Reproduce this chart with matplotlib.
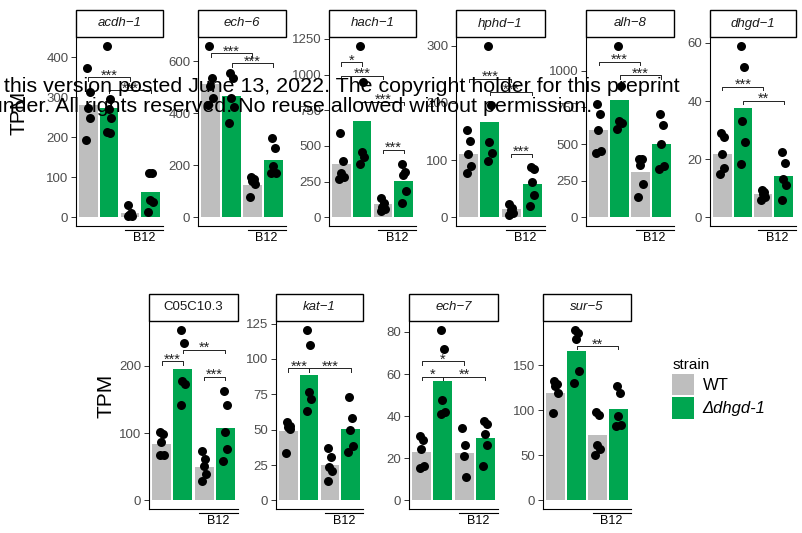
import matplotlib
matplotlib.use('Agg')
import matplotlib.pyplot as plt
from matplotlib.patches import Rectangle, Patch

plt.rcParams['font.family'] = ['Liberation Sans', 'DejaVu Sans']

# panel names, in reading order (top row 6, bottom row 4)
genes = ['acdh−1', 'ech−6', 'hach−1', 'hphd−1', 'alh−8', 'dhgd−1',
         'C05C10.3', 'kat−1', 'ech−7', 'sur−5']
italic_name = [True, True, True, True, True, True, False, True, True, True]

# bar order: WT, dhgd-1, WT + B12, dhgd-1 + B12
bar_fill = ['#BEBEBE', '#00A650', '#BEBEBE', '#00A650']

# mean TPM (bar heights)
bar_means = [
    [281, 273, 12, 64],
    [513, 465, 126, 222],
    [371, 678, 91, 252],
    [111, 167, 15, 59],
    [599, 798, 308, 503],
    [21.9, 37.6, 8.0, 14.4],
    [84, 196, 50, 108],
    [48.8, 88.6, 25.3, 50.7],
    [23.0, 56.7, 22.5, 29.8],
    [118.8, 165.4, 72.8, 101.5],
]

# replicate TPM values (dots)
replicates = [
    [[372, 312, 273, 249, 194], [429, 295, 270, 248, 214, 212], [30, 10, 6, 4, 3], [112, 110, 44, 38, 14]],
    [[660, 536, 504, 460, 433], [555, 536, 458, 424, 364], [156, 146, 140, 128, 80], [305, 268, 197, 172, 169]],
    [[593, 395, 308, 285, 266], [1203, 951, 460, 425, 374], [138, 98, 75, 56, 44], [374, 315, 297, 185, 98]],
    [[152, 133, 110, 90, 77], [300, 197, 131, 113, 98], [24, 17, 13, 7, 4], [88, 84, 62, 40, 20]],
    [[776, 707, 599, 456, 440], [1172, 893, 655, 644, 603], [401, 399, 356, 229, 138], [707, 628, 501, 349, 333]],
    [[29, 27.8, 21.9, 17, 15.1], [59.1, 51.7, 33.2, 25.8, 18.2], [9.3, 8.8, 8.0, 7.0, 6.0], [22.5, 18.8, 13.3, 11.0, 5.9]],
    [[101, 99, 87, 68, 68], [254, 234, 178, 173, 142], [73, 61, 51, 39, 29], [162, 142, 101, 76, 58]],
    [[55.8, 52.3, 51.8, 50.7, 33.5], [120.8, 109.8, 76.9, 71.5, 63.3], [37.1, 30.5, 23.9, 20.6, 14.1], [72.9, 58.6, 50.0, 38.2, 34.2]],
    [[30.7, 28.5, 24.4, 16.2, 15.4], [81.1, 72.1, 47.7, 42.2, 40.9], [34.6, 26.5, 20.9, 11.0], [37.5, 36.4, 31.7, 26.1, 16.5]],
    [[132.7, 129, 126.8, 119, 96.7], [189.3, 186, 178.3, 143.4, 130.5], [97.8, 94.1, 61.8, 57.4, 50.7], [127.2, 118.8, 93.8, 83.8, 82]],
]

y_ticks = [
    [0, 100, 200, 300, 400],
    [0, 200, 400, 600],
    [0, 250, 500, 750, 1000, 1250],
    [0, 100, 200, 300],
    [0, 250, 500, 750, 1000],
    [0, 20, 40, 60],
    [0, 100, 200],
    [0, 25, 50, 75, 100, 125],
    [0, 20, 40, 60, 80],
    [0, 50, 100, 150],
]

# significance brackets: (bar a, bar b, height, label)
sig_brackets = [
    [(0, 2, 350, '***'), (1, 3, 318, '***')],
    [(0, 2, 631, '***'), (1, 3, 592, '***')],
    [(0, 1, 1086, '*'), (0, 2, 993, '***'), (1, 3, 811, '***'), (2, 3, 472, '***')],
    [(0, 2, 242, '***'), (1, 3, 219, '***'), (2, 3, 111, '***')],
    [(0, 2, 1063, '***'), (1, 3, 968, '***')],
    [(0, 2, 44.9, '***'), (1, 3, 40.1, '**')],
    [(0, 1, 207, '***'), (1, 3, 224, '**'), (2, 3, 184, '***')],
    [(0, 1, 93.3, '***'), (1, 3, 93.3, '***')],
    [(0, 2, 66.1, '*'), (0, 1, 58.7, '*'), (1, 3, 58.7, '**')],
    [(1, 3, 171, '**')],
]

W, H = 803, 533
# axes boxes in pixels: (left, right, top, bottom)
boxes = [(76, 163, 37, 226), (198, 286, 37, 226), (329, 416, 37, 226),
         (456, 545, 37, 226), (586, 674, 37, 226), (710, 796, 37, 226),
         (149, 238, 321, 509), (276, 363, 321, 509), (409, 498, 321, 509),
         (543, 631, 321, 509)]

jit = [-0.08, 0.06, -0.02, 0.1, -0.1, 0.03]

fig = plt.figure(figsize=(W / 100, H / 100), dpi=100)

for i, g in enumerate(genes):
    l, r, t, b = boxes[i]
    ax = fig.add_axes([l / W, 1 - b / H, (r - l) / W, (b - t) / H])
    hgt = b - t
    ax.bar(range(4), bar_means[i], width=0.9, color=bar_fill, zorder=1)
    for j in range(4):
        vals = replicates[i][j]
        xs = [j + jit[k % len(jit)] for k in range(len(vals))]
        ax.scatter(xs, vals, s=42, color='black', zorder=3, linewidths=0)
    top = max(max(v) for v in replicates[i])
    ax.set_ylim(-0.05 * top, 1.05 * top)
    ax.set_xlim(-0.6, 3.6)
    rng = 1.1 * top
    tip = 0.018 * rng
    for a, c, y, lab in sig_brackets[i]:
        ax.plot([a, a, c, c], [y - tip, y, y, y - tip], color='#222222', lw=0.7, zorder=4)
        ax.text((a + c) / 2, y - 0.012 * rng, lab, ha='center', va='baseline', fontsize=10.5,
                color='#222222', zorder=5)
    ax.set_yticks(y_ticks[i])
    ax.set_yticklabels([str(v) for v in y_ticks[i]])
    ax.tick_params(axis='y', length=3.5, width=0.7, color='#333333', labelcolor='#4D4D4D', labelsize=9.5, pad=2)
    ax.set_xticks([])
    for s in ['top', 'right']:
        ax.spines[s].set_visible(False)
    for s in ['left', 'bottom']:
        ax.spines[s].set_linewidth(0.8)
    # strip
    sh = 27 / hgt
    ax.add_patch(Rectangle((0, 1), 1, sh, transform=ax.transAxes, clip_on=False,
                           facecolor='white', edgecolor='black', lw=1))
    ax.text(0.5, 1 + sh / 2, g, transform=ax.transAxes, ha='center', va='center',
            fontsize=9.5, color='#1A1A1A', style='italic' if italic_name[i] else 'normal')
    # B12 bracket under axis
    ax.plot([0.563, 1.0], [-4 / hgt, -4 / hgt], transform=ax.transAxes, clip_on=False, color='black', lw=0.8)
    ax.text(0.78, -12 / hgt, 'B12', transform=ax.transAxes, ha='center', va='center', fontsize=9)

fig.text(19 / W, 1 - 113 / H, 'TPM', rotation=90, ha='center', va='center', fontsize=15)
fig.text(106 / W, 1 - 396 / H, 'TPM', rotation=90, ha='center', va='center', fontsize=15)

handles = [Patch(facecolor='#BEBEBE'), Patch(facecolor='#00A650')]
leg = fig.legend(handles, ['WT', 'Δdhgd-1'], loc='upper left', bbox_to_anchor=(664 / W, 1 - 350 / H),
                 frameon=False, fontsize=12, title='strain', title_fontsize=11, alignment='left',
                 handlelength=1.32, handleheight=1.6, labelspacing=0.1, handletextpad=0.5, borderpad=0)
leg.get_texts()[1].set_fontstyle('italic')

fig.text(680 / W, 1 - 92 / H, '; this version posted June 13, 2022. The copyright holder for this preprint',
         ha='right', va='baseline', fontsize=15.4, zorder=10)
fig.text(592 / W, 1 - 112 / H, 'funder. All rights reserved. No reuse allowed without permission.',
         ha='right', va='baseline', fontsize=15.4, zorder=10)

fig.savefig('out.png', dpi=100)
